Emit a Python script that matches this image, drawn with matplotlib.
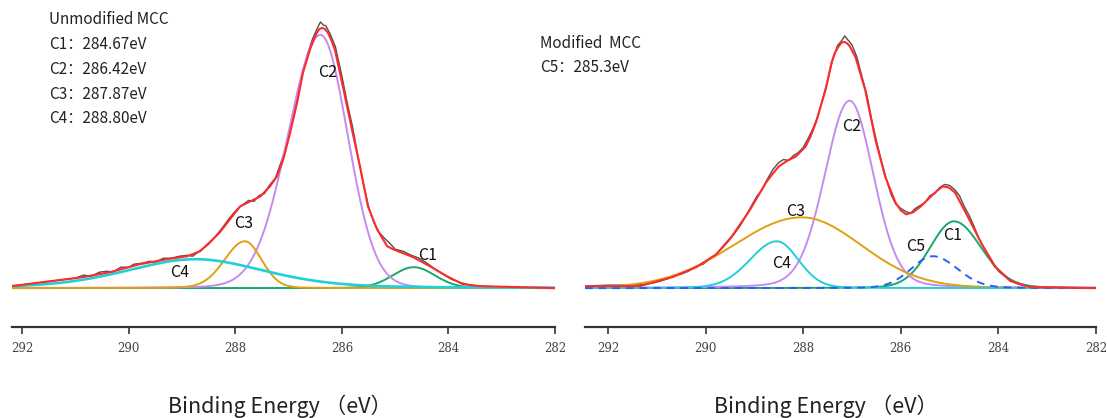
import numpy as np
import matplotlib.pyplot as plt

plt.rcParams['font.family'] = ['Noto Sans CJK SC', 'DejaVu Sans']

# binding energy ticks (eV)
ticks = [292, 290, 288, 286, 284, 282]

# ---- unmodified MCC ----
# fitted components: centre (eV), height, half width on high / low BE side, lorentz share
names_a = ["C1", "C2", "C3", "C4"]
centers_a = [284.65, 286.40, 287.82, 288.75]
heights_a = [21, 254, 47, 29]
hw_hi_a = [0.47, 0.72, 0.45, 1.53]
hw_lo_a = [0.47, 0.60, 0.37, 1.53]
eta_a = [0.1, 0.05, 0.1, 0.3]
info_a = ["Unmodified MCC", "C1：284.67eV", "C2：286.42eV", "C3：287.87eV", "C4：288.80eV"]

# fit envelope (red)
fit_e_a = [292.19, 291.61, 290.86, 290.35, 289.79, 289.28, 288.90, 288.66, 288.42,
           288.29, 288.10, 287.91, 287.72, 287.53, 287.35, 287.22, 287.10, 286.97,
           286.84, 286.73, 286.60, 286.53, 286.47, 286.42, 286.37, 286.32, 286.26,
           286.20, 286.13, 285.98, 285.81, 285.66, 285.51, 285.34, 285.15, 285.04,
           284.66, 284.35, 284.03, 283.73, 283.41, 282.0]
fit_a = [2, 6, 11, 16, 24, 29, 32, 37, 49, 56, 69, 82, 87, 92, 102, 112, 129, 156,
         186, 216, 239, 249, 256, 260, 261, 260, 256, 249, 239, 202, 159, 122, 82,
         59, 42, 39, 31, 22, 12, 4, 2, 0]

# measured spectrum (black)
raw_e_a = [292.19, 291.9, 291.6, 291.3, 291.0, 290.85, 290.7, 290.55, 290.4, 290.3,
           290.15, 290.0, 289.9, 289.75, 289.6, 289.5, 289.35, 289.2, 289.05, 288.9,
           288.8, 288.65, 288.5, 288.4, 288.25, 288.1, 287.95, 287.85, 287.75, 287.65,
           287.55, 287.45, 287.35, 287.25, 287.15, 287.05, 286.95, 286.85, 286.75,
           286.65, 286.55, 286.45, 286.40, 286.35, 286.30, 286.22, 286.12, 286.0,
           285.9, 285.8, 285.7, 285.6, 285.5, 285.4, 285.3, 285.2, 285.1, 285.0,
           284.85, 284.7, 284.55, 284.4, 284.25, 284.1, 283.95, 283.8, 283.6, 283.4,
           283.0, 282.5, 282.0]
raw_a = [2, 4, 6, 8, 10, 13, 12, 16, 17, 16, 21, 21, 24, 25, 27, 26, 30, 30, 32, 33,
         32, 38, 44, 50, 60, 71, 80, 84, 88, 87, 93, 95, 104, 110, 125, 141, 163, 186,
         212, 234, 250, 262, 267, 264, 263, 255, 242, 213, 186, 162, 133, 106, 82, 66,
         56, 50, 45, 39, 37, 33, 30, 25, 19, 14, 9, 6, 3, 2, 1, 0, 0]

# ---- modified MCC ----
names_b = ["C1", "C2", "C3", "C4", "C5"]
centers_b = [284.91, 287.05, 288.03, 288.54, 285.34]
heights_b = [67, 188, 71, 47, 32]
hw_hi_b = [0.58, 0.60, 1.65, 0.65, 0.53]
hw_lo_b = [0.66, 0.58, 1.44, 0.52, 0.59]
eta_b = [0.1, 0.15, 0.05, 0.1, 0.1]
info_b = ["Modified  MCC", "C5：285.3eV"]

fit_e_b = [292.47, 291.35, 290.68, 290.19, 289.78, 289.46, 289.11, 288.76, 288.62,
           288.50, 288.32, 288.15, 287.95, 287.85, 287.74, 287.54, 287.42, 287.35,
           287.28, 287.22, 287.17, 287.11, 287.05, 286.93, 286.73, 286.52, 286.32,
           286.11, 286.00, 285.89, 285.75, 285.59, 285.38, 285.25, 285.14, 285.02,
           284.89, 284.63, 284.36, 284.08, 283.75, 283.35, 282.0]
fit_b = [2, 2, 11, 21, 34, 52, 77, 106, 115, 122, 128, 132, 142, 152, 166, 199, 226,
         236, 242, 246, 247, 246, 243, 232, 199, 149, 112, 86, 78, 74, 76, 82, 92, 98,
         102, 101, 96, 72, 46, 22, 7, 1, 0]

raw_e_b = [292.47, 292.0, 291.5, 291.2, 291.0, 290.8, 290.65, 290.5, 290.35, 290.2,
           290.05, 289.95, 289.8, 289.7, 289.55, 289.45, 289.3, 289.2, 289.1, 288.95,
           288.85, 288.75, 288.62, 288.5, 288.4, 288.3, 288.2, 288.1, 288.0, 287.9,
           287.8, 287.7, 287.6, 287.5, 287.4, 287.3, 287.2, 287.15, 287.1, 287.0,
           286.9, 286.8, 286.7, 286.6, 286.5, 286.4, 286.3, 286.2, 286.1, 286.0,
           285.9, 285.8, 285.7, 285.6, 285.5, 285.4, 285.3, 285.2, 285.1, 285.0,
           284.9, 284.8, 284.7, 284.6, 284.5, 284.4, 284.3, 284.2, 284.1, 284.0,
           283.8, 283.6, 283.4, 283.0, 282.0]
raw_b = [2, 3, 3, 4, 6, 9, 13, 14, 17, 22, 24, 28, 33, 38, 46, 52, 62, 70, 79, 92,
         98, 108, 119, 126, 129, 128, 133, 136, 141, 150, 160, 172, 190, 208, 228,
         243, 249, 253, 250, 244, 232, 213, 195, 170, 148, 128, 110, 94, 84, 80, 77,
         75, 80, 83, 86, 93, 95, 101, 104, 103, 99, 93, 82, 73, 62, 50, 41, 33, 25,
         17, 9, 4, 2, 1, 0]

colors = {"C1": "#19a86a", "C2": "#c68af0", "C3": "#e0a010",
          "C4": "#1fd0d8", "C5": "#2a5cff"}


def comp(x, c, h, whi, wlo, eta):
    # asymmetric pseudo-Voigt
    w = np.where(x > c, whi, wlo)
    t = (x - c) / w
    return h * ((1 - eta) * np.exp(-np.log(2) * t ** 2) + eta / (1 + t ** 2))


def panel(ax, xlim, names, centers, heights, whi, wlo, eta, fit_e, fit, raw_e, raw,
          cyan_lw=1.4):
    x = np.linspace(xlim[0], xlim[1], 900)
    ax.plot(raw_e, raw, color="#505050", lw=1.0, zorder=1)
    for n, c, h, a, b, e in zip(names, centers, heights, whi, wlo, eta):
        ls = (0, (4, 3)) if n == "C5" else "-"
        lw = cyan_lw if n == "C4" else 1.4
        ax.plot(x, comp(x, c, h, a, b, e), color=colors[n], lw=lw, ls=ls, zorder=2)
    ax.plot(fit_e, fit, color="#ff2a2a", lw=1.5, zorder=3)

    ax.set_xlim(xlim)
    ax.set_ylim(-39, 279)
    ax.set_xticks(ticks)
    ax.set_xticklabels([str(t) for t in ticks], family="DejaVu Serif",
                       fontsize=8.5, color="#444444")
    ax.tick_params(axis="x", direction="out", length=5, width=1.2,
                   color="#333333", pad=6)
    ax.set_yticks([])
    for s in ["top", "right", "left"]:
        ax.spines[s].set_visible(False)
    ax.spines["bottom"].set_linewidth(1.6)
    ax.spines["bottom"].set_color("#333333")
    ax.set_xlabel("Binding Energy （eV）", fontsize=15.5, color="#222222")


fig = plt.figure(figsize=(11.07, 4.18), dpi=100)
ax1 = fig.add_axes([12 / 1107, 91 / 418, 543 / 1107, 317 / 418])
ax2 = fig.add_axes([585 / 1107, 91 / 418, 511 / 1107, 317 / 418])

panel(ax1, (292.19, 282), names_a, centers_a, heights_a, hw_hi_a, hw_lo_a, eta_a,
      fit_e_a, fit_a, raw_e_a, raw_a, cyan_lw=1.9)
panel(ax2, (292.47, 282), names_b, centers_b, heights_b, hw_hi_b, hw_lo_b, eta_b,
      fit_e_b, fit_b, raw_e_b, raw_b)
ax1.xaxis.set_label_coords(0.493, -0.212)
ax2.xaxis.set_label_coords(0.472, -0.212)

# info text
for i, t in enumerate(info_a):
    ax1.text(291.49, 269 - 24.8 * i, t, fontsize=11, va="center", color="#222222")
for i, t in enumerate(info_b):
    ax2.text(293.39, 245 - 24 * i, t, fontsize=11, va="center",
             color="#222222", clip_on=False)

# peak labels
lab_a = {"C2": (286.26, 216), "C3": (287.84, 65), "C4": (289.04, 16), "C1": (284.40, 33)}
lab_b = {"C2": (287.01, 162), "C3": (288.15, 77), "C4": (288.44, 25),
         "C5": (285.69, 42), "C1": (284.93, 53)}
for n, (xx, yy) in lab_a.items():
    ax1.text(xx, yy, n, fontsize=11.5, ha="center", va="center", color="#111111")
for n, (xx, yy) in lab_b.items():
    ax2.text(xx, yy, n, fontsize=11.5, ha="center", va="center", color="#111111")

fig.savefig("out.png", dpi=100)
